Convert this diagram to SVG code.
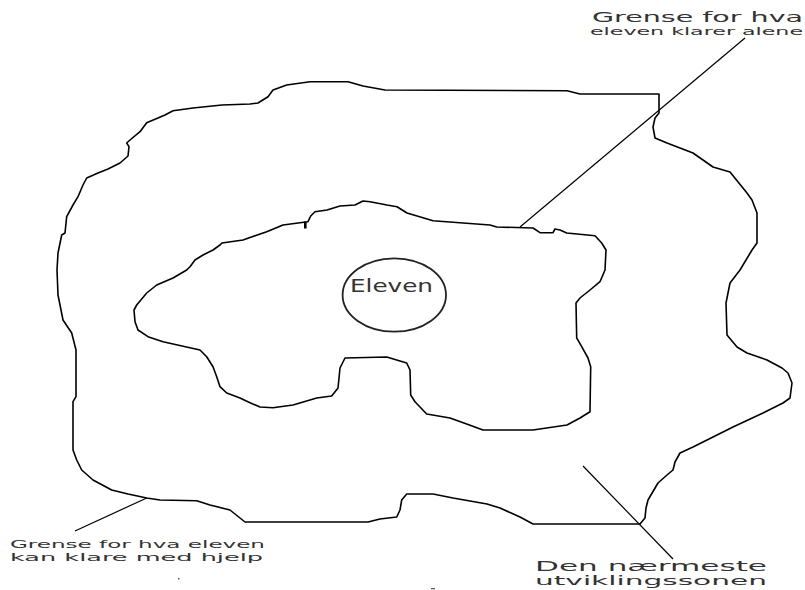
<svg xmlns="http://www.w3.org/2000/svg" width="805" height="590" viewBox="0 0 805 590">
<style>
.b{fill:none;stroke:#000;stroke-width:1.6;stroke-linejoin:round}
.l{fill:none;stroke:#000;stroke-width:1.2}
.t{font-family:"DejaVu Sans",Verdana,sans-serif;fill:#333}
</style>
<rect width="805" height="590" fill="#fff"/>
<g id="outer-zone">
<path class="b" d="M348,81.7 L363,86 L385,90 L567,90.7 L580,94 L659,94 L659,113 L655,118 L653,127 L655,138 L667,143 L693,153 L713,167 L730,172 L747,193 L752,200 L757,213 L757,243 L752,250 L740,270 L730,283 L726,303 L727,335 L737,347 L747,353 L767,360 L782,368 L788,373 L792,383 L790,398 L783,403 L763,413 L733,427 L693,447 L680,453 L675,462 L673,470 L667,475 L658,483 L648,500 L646,508 L645,518 L640,524 L533,524 L520,517 L500,508 L487,504 L453,498 L433,494 L406.7,494 L401.7,500 L400,510 L396.7,517 L380,519 L368,522 L245,522 L230,510 L210,505 L196.7,500.7 L160,500 L146.7,498 L128,494 L111.7,490 L93,480 L81.7,470 L76.7,460 L73,450 L73,401.7 L76,396.7 L76,350 L71.7,333 L63,320 L58,295 L57,270 L58,253 L61.7,235 L65,233 L66.7,216.7 L73,205 L78,196.7 L83,185 L86.7,178 L98,173 L108,169 L120,163 L128,156 L129,146.7 L126.7,143 L130,140 L140,131.7 L146.7,122.7 L165,115 L173,110.7 L193,108 L222,105 L250,104 L258,103 L268,96.7 L273,90 L286.7,85 L310,81.7 Z"/>
</g>
<g id="inner-zone">
<path class="b" d="M363,201 L370,201.7 L387,205 L397,206.7 L407,213 L433,220.7 L490,225 L496.7,227 L533,228 L540,232.7 L553,232.7 L555,229 L560,230 L566.7,233 L595,235.7 L601.7,243 L606,250 L605,270 L600,281.7 L590,290 L580,298 L576,303 L576.7,338 L581.7,346.7 L588,358 L590.7,366.7 L590,411.7 L580,418 L567,425 L533,430 L483,430 L466.7,424 L450,418 L426.7,414 L415,401.7 L410.7,395 L410,370 L406.7,363 L386.7,357 L345,358 L340,368 L338,388 L331.7,396 L316.7,398 L293,405 L273,407.7 L260,407 L250,402.7 L240,398 L226.7,393 L220,386.7 L216.7,376.7 L213,366.7 L206.7,356.7 L200,350 L163,341.7 L148,336.7 L138,330 L135,321.7 L134,310 L136.7,305 L146.7,293 L156.7,285 L173,278 L186.7,270 L190,266.7 L195,260 L203,255 L213,250 L220,245 L222,243 L243,240 L266.7,231.7 L283,225 L300,222.7 L308,221.7 L310.7,216 L315,211.7 L327,210 L340,206 L355,205 Z"/>
<rect x="304" y="221.5" width="2.6" height="7" fill="#000"/>
</g>
<g id="eleven">
<ellipse cx="394.3" cy="295" rx="51.7" ry="36.7" fill="none" stroke="#222" stroke-width="1.8"/>
<text class="t" x="350" y="291.7" font-size="17.5" textLength="83" lengthAdjust="spacingAndGlyphs">Eleven</text>
</g>
<g id="connectors">
<line class="l" x1="520" y1="227" x2="745" y2="38"/>
<line class="l" x1="146.7" y1="498" x2="75" y2="531"/>
<line class="l" x1="583" y1="466" x2="673" y2="559"/>
</g>
<g id="label-alone">
<text class="t" x="592" y="21.5" font-size="14" textLength="211" lengthAdjust="spacingAndGlyphs">Grense for hva</text>
<text class="t" x="590" y="35" font-size="11" textLength="213" lengthAdjust="spacingAndGlyphs">eleven klarer alene</text>
</g>
<g id="label-help">
<text class="t" x="10" y="547.5" font-size="11" textLength="255" lengthAdjust="spacingAndGlyphs">Grense for hva eleven</text>
<text class="t" x="10" y="561" font-size="11" textLength="253" lengthAdjust="spacingAndGlyphs">kan klare med hjelp</text>
</g>
<g id="label-zone">
<text class="t" x="535" y="571" font-size="13.5" textLength="232" lengthAdjust="spacingAndGlyphs">Den nærmeste</text>
<text class="t" x="535" y="584.5" font-size="12.5" textLength="232" lengthAdjust="spacingAndGlyphs">utviklingssonen</text>
</g>
<rect x="178" y="578" width="1.5" height="1.5" fill="#555"/>
<rect x="431" y="588" width="4" height="1.2" fill="#555"/>
</svg>
